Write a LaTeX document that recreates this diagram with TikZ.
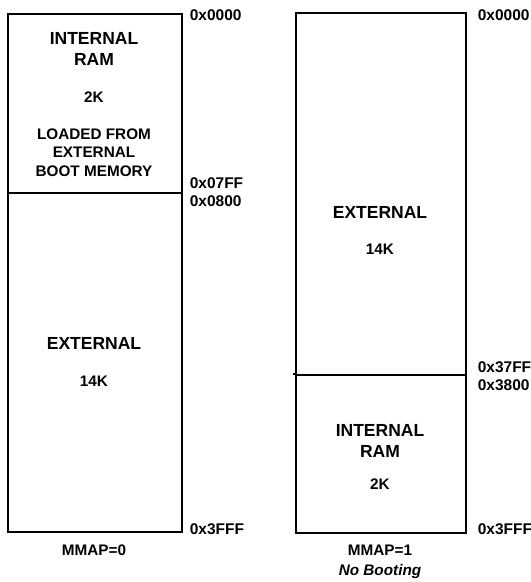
\documentclass[tikz,border=0pt]{standalone}
\usepackage{fontspec}
\setmainfont{Liberation Sans}

\begin{document}
\begin{tikzpicture}[x=1pt,y=-1pt,line width=1.6pt,inner sep=0pt]
  \tikzstyle{region}=[draw=black,line width=1.6pt,anchor=north west]
  \tikzstyle{big}=[font=\fontsize{17.5}{21}\bfseries\selectfont,align=center]
  \tikzstyle{small}=[font=\fontsize{15.3}{18.5}\bfseries\selectfont,align=center]
  \tikzstyle{addr}=[font=\fontsize{15.5}{18}\bfseries\selectfont,anchor=west]

  \useasboundingbox (0,0) rectangle (531,582);

  % MMAP=0
  \node[region,minimum width=174pt,minimum height=179pt] (ram0) at (7,13) {};
  \node[region,minimum width=174pt,minimum height=339pt] (ext0) at (7,192) {};
  \node[big] (ramtxt0) at (94,49) {INTERNAL\\RAM};
  \node[small] (ramsize0) at (94,97) {2K};
  \node[small] (boot0) at (94,152.5) {LOADED FROM\\EXTERNAL\\BOOT MEMORY};
  \node[big] (exttxt0) at (94,343) {EXTERNAL};
  \node[small] (extsize0) at (94,381) {14K};
  \node[addr] (a0top) at (189,15) {0x0000};
  \node[addr] (a0end) at (189,183) {0x07FF};
  \node[addr] (a0mid) at (189,201) {0x0800};
  \node[addr] (a0bot) at (189,529) {0x3FFF};
  \node[small] (mmap0) at (94,550) {MMAP=0};

  % MMAP=1
  \node[region,minimum width=170pt,minimum height=362pt] (ext1) at (295,12) {};
  \node[region,minimum width=170pt,minimum height=158pt] (ram1) at (295,374) {};
  \draw ([xshift=-2pt]ram1.north west) -- (ram1.north west);
  \node[big] (exttxt1) at (380,212) {EXTERNAL};
  \node[small] (extsize1) at (380,249) {14K};
  \node[big] (ramtxt1) at (380,441) {INTERNAL\\RAM};
  \node[small] (ramsize1) at (380,484) {2K};
  \node[addr] (a1top) at (477,15) {0x0000};
  \node[addr] (a1end) at (477,367) {0x37FF};
  \node[addr] (a1mid) at (477,385) {0x3800};
  \node[addr] (a1bot) at (477,529) {0x3FFF};
  \node[small] (mmap1) at (380,550) {MMAP=1};
  \node[small,font=\fontsize{15.3}{18}\bfseries\itshape\selectfont] (noboot) at (380,572) {No Booting};

\end{tikzpicture}
\end{document}
